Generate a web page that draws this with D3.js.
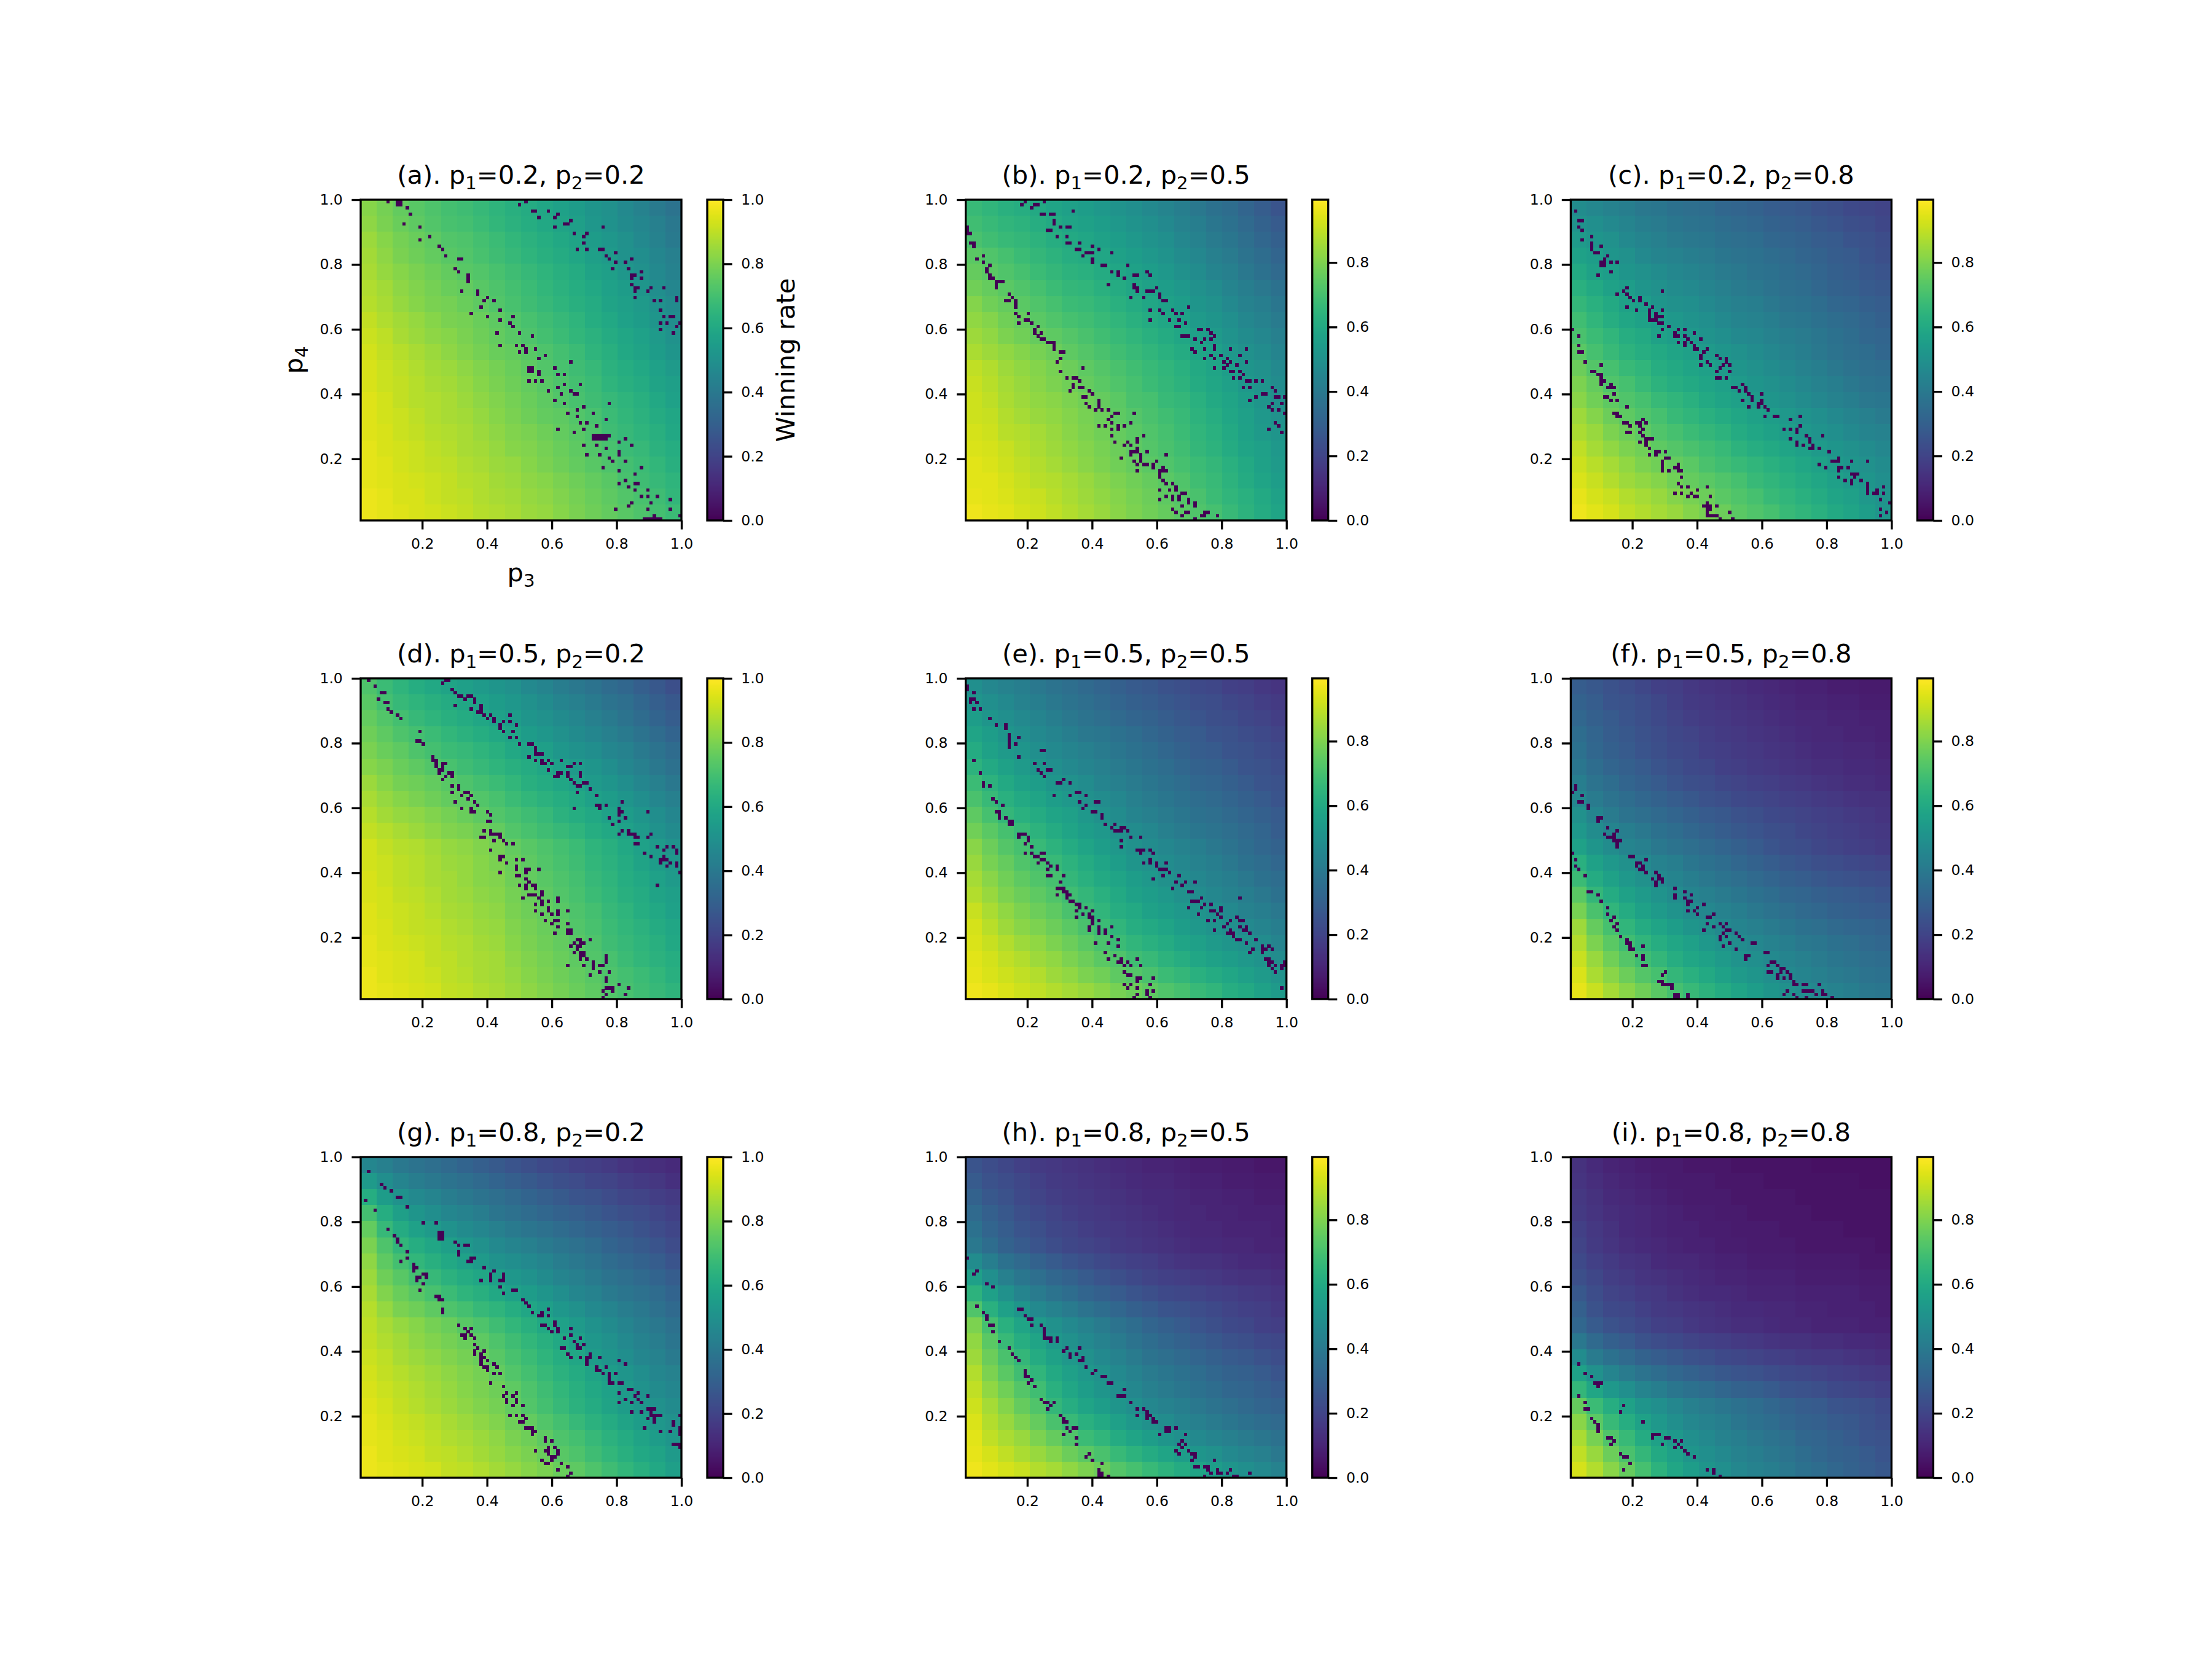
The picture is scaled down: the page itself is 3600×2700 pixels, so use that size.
<!DOCTYPE html>
<html>
<head>
<meta charset="utf-8">
<style>
    body { margin: 0; background: #ffffff; }
    text { font-family: "DejaVu Sans", sans-serif; }
</style>
</head>
<body>
<svg id="fig" width="3600" height="2700"></svg>
<script src="https://cdn.jsdelivr.net/npm/d3@7/dist/d3.min.js"></script>
<script>
// panel parameters: rows vary p1, columns vary p2
const p1Values = [0.2, 0.5, 0.8]
const p2Values = [0.2, 0.5, 0.8]
const panelLetters = ["a", "b", "c", "d", "e", "f", "g", "h", "i"]
const axisTicks = [0.2, 0.4, 0.6, 0.8, 1.0]
const cbarTicksFull = [0.0, 0.2, 0.4, 0.6, 0.8, 1.0]
const cbarTicksShort = [0.0, 0.2, 0.4, 0.6, 0.8]
const cbarMax = [1.0, 0.995, 0.995]

// winning rate in percent, coarse 20x20 reading, first row is p4 near 1.0
const gridA = [
 [82,79,76,74,72,70,69,67,65,63,61,59,57,55,52,50,47,44,41,38],
 [83,80,77,75,73,71,70,68,66,64,62,60,58,56,53,51,48,46,43,40],
 [85,82,79,77,75,73,72,70,68,66,64,62,60,58,55,53,50,47,44,41],
 [86,83,80,78,76,74,73,71,69,67,65,63,61,59,56,54,51,49,46,43],
 [87,84,82,80,78,76,74,73,71,69,67,65,63,61,58,56,53,50,47,44],
 [88,86,83,81,79,77,76,74,72,70,68,66,64,62,60,57,55,52,49,46],
 [89,87,84,82,80,79,77,75,73,71,69,67,65,63,61,58,56,54,51,48],
 [91,88,86,84,82,80,79,77,75,73,71,69,67,65,62,60,57,55,52,49],
 [92,90,87,85,83,82,80,78,76,74,72,70,68,66,64,61,59,57,54,51],
 [93,91,89,87,85,83,81,79,77,76,74,72,70,68,65,63,60,58,55,52],
 [94,92,90,88,86,85,83,81,79,77,75,73,71,69,67,64,62,60,57,54],
 [94,92,91,89,87,86,84,82,80,78,76,74,72,70,68,65,63,61,58,56],
 [95,93,91,89,88,87,85,83,81,79,77,75,73,71,69,67,65,63,60,57],
 [95,93,92,90,88,87,86,84,82,80,78,76,75,73,71,68,66,64,61,59],
 [95,94,92,91,89,88,87,85,83,81,80,78,76,74,72,69,67,65,63,60],
 [96,94,93,92,90,89,87,86,84,82,81,79,77,75,73,71,68,67,64,62],
 [96,95,93,92,91,90,88,87,85,84,82,80,78,76,74,72,70,68,66,63],
 [96,95,94,93,92,91,89,88,86,85,83,82,80,78,76,74,71,69,67,65],
 [97,96,94,94,92,91,90,88,87,86,84,83,81,79,77,75,73,71,69,66],
 [97,96,95,94,93,92,91,89,88,87,85,84,82,80,78,76,74,72,70,68]
]
const gridB = [
 [67,65,63,62,60,58,56,55,53,51,49,47,45,42,40,37,35,32,29,26],
 [69,67,65,64,62,60,58,57,55,53,51,49,47,44,42,39,37,34,31,28],
 [71,69,67,66,64,62,60,59,57,55,53,51,49,46,44,41,39,36,33,30],
 [74,72,70,68,66,64,62,61,59,57,55,53,51,48,46,43,41,38,35,32],
 [76,74,72,70,68,66,64,63,61,59,57,55,53,50,48,45,43,40,37,34],
 [78,76,74,72,70,68,66,65,63,61,59,57,55,53,50,48,45,42,40,37],
 [81,78,76,74,72,70,68,67,65,63,61,59,57,55,52,50,47,44,42,39],
 [83,81,78,76,74,72,70,69,67,65,63,61,59,57,54,52,49,46,44,41],
 [85,83,80,78,76,75,73,71,69,67,65,63,61,59,56,54,51,48,46,43],
 [87,85,83,81,79,77,75,73,71,69,67,65,63,61,58,56,53,50,48,45],
 [90,88,85,83,81,79,77,75,73,71,69,67,65,63,60,58,55,52,50,47],
 [91,89,86,84,82,80,78,76,74,72,70,68,66,64,61,59,56,53,51,48],
 [92,90,87,85,83,82,80,78,76,74,71,70,67,66,63,60,58,55,52,49],
 [92,91,88,86,84,83,81,79,77,75,73,71,69,67,64,62,59,56,53,50],
 [93,92,89,88,86,84,82,80,78,76,74,72,70,68,65,63,60,57,54,52],
 [94,93,91,89,87,85,83,81,79,77,75,73,71,69,66,64,61,58,56,53],
 [95,94,92,90,88,86,84,82,80,78,76,74,72,70,68,66,63,60,57,54],
 [95,95,93,91,89,88,86,84,82,80,78,76,74,72,69,67,64,61,58,55],
 [96,95,94,92,91,89,87,85,83,81,79,77,75,73,71,68,65,63,60,57],
 [97,96,95,93,92,90,88,86,84,82,80,78,76,74,72,70,67,64,61,58]
]
const gridC = [
 [48,46,44,42,40,39,37,36,35,33,32,31,29,28,27,25,24,22,21,20],
 [51,49,47,45,42,41,39,38,37,35,34,33,31,30,29,27,26,24,23,21],
 [54,52,50,47,45,43,41,40,39,37,36,35,33,32,31,29,28,26,25,23],
 [57,55,52,50,47,45,44,42,41,39,38,37,35,34,32,31,29,28,26,24],
 [60,57,55,52,50,48,46,45,43,41,40,38,37,35,34,32,30,29,27,26],
 [63,60,57,55,52,50,48,47,45,43,41,40,38,36,35,33,31,30,28,27],
 [66,63,60,57,55,52,50,49,47,45,43,42,40,38,37,35,33,32,30,29],
 [69,65,62,59,57,55,53,51,49,47,45,44,42,40,39,37,35,34,32,30],
 [71,68,65,62,60,57,55,53,51,49,47,46,44,42,41,39,37,35,33,32],
 [74,70,67,64,62,60,58,56,54,52,50,48,46,44,42,40,38,36,35,33],
 [77,73,70,67,65,62,60,58,56,54,52,50,48,46,44,42,40,38,36,35],
 [80,76,72,70,67,64,62,60,58,56,54,52,50,48,46,44,42,40,38,37],
 [82,78,75,72,70,67,65,63,60,58,56,54,52,50,48,46,44,42,40,39],
 [85,81,77,75,72,70,67,65,63,61,59,57,55,53,51,49,47,45,43,41],
 [87,84,80,77,75,72,70,68,66,64,61,59,57,55,53,51,49,47,45,44],
 [90,86,83,80,78,75,73,71,69,67,64,62,60,58,56,54,52,50,48,46],
 [92,89,86,83,80,78,76,74,71,69,67,65,63,61,59,57,54,52,50,48],
 [94,91,88,85,83,81,78,76,74,72,70,67,65,63,61,59,56,54,52,49],
 [96,93,91,88,86,84,81,79,77,74,72,70,67,65,63,61,58,56,53,51],
 [97,95,93,90,88,86,84,81,79,77,74,72,70,67,65,63,60,58,55,52]
]
const gridD = [
 [72,68,65,62,60,58,56,54,52,50,47,45,42,40,38,35,33,30,27,24],
 [74,70,67,65,63,61,59,57,55,53,50,48,45,43,41,38,36,33,30,27],
 [76,73,70,67,65,63,61,59,57,55,52,50,48,46,43,41,38,35,32,29],
 [78,75,72,70,68,66,64,62,60,58,55,53,50,48,46,43,41,38,35,32],
 [80,77,75,72,70,68,67,65,63,60,58,56,53,51,49,46,44,41,38,35],
 [82,80,77,75,73,71,69,67,65,63,61,59,56,54,52,49,46,43,40,37],
 [85,82,79,78,76,74,72,70,68,66,63,61,59,57,54,52,49,46,43,40],
 [87,84,82,80,78,76,75,73,71,68,66,64,62,60,57,55,52,49,46,43],
 [89,86,84,83,81,79,77,75,73,71,69,67,64,62,60,57,55,52,49,46],
 [91,89,87,85,83,81,80,78,76,73,71,69,67,65,62,60,57,54,51,48],
 [93,91,89,88,86,84,83,81,79,76,74,72,70,68,65,63,60,57,54,51],
 [93,92,90,89,87,85,84,82,80,77,75,73,71,69,66,64,61,58,55,53],
 [94,92,90,89,87,86,84,82,81,78,76,74,72,70,67,65,62,60,57,54],
 [94,93,91,90,88,86,85,83,82,79,77,75,73,71,68,66,63,61,58,56],
 [95,93,92,91,89,87,86,84,83,80,78,76,74,72,70,67,65,62,60,57],
 [95,94,92,91,90,88,87,85,84,81,79,77,75,73,71,68,66,64,61,59],
 [96,94,93,92,91,89,88,86,85,82,80,78,76,74,72,69,67,65,63,60],
 [96,95,94,93,91,90,88,87,86,83,81,79,77,75,73,71,68,66,64,62],
 [97,95,94,93,92,90,89,87,86,84,82,80,78,76,74,72,70,68,66,63],
 [97,96,95,94,93,91,90,88,87,85,83,81,79,77,75,73,71,69,67,65]
]
const gridE = [
 [49,46,44,42,40,38,36,34,32,30,28,27,25,24,22,21,19,18,16,15],
 [52,49,47,44,42,40,38,36,34,32,30,29,27,26,24,23,21,20,18,17],
 [55,52,49,47,45,42,40,38,36,34,32,31,29,27,26,24,23,21,20,18],
 [58,55,52,49,47,45,42,40,39,37,35,33,31,29,28,26,25,23,22,20],
 [61,57,54,52,49,47,45,43,41,39,37,35,33,31,29,28,26,25,23,22],
 [64,60,57,54,52,49,47,45,43,41,39,37,35,33,31,30,28,26,25,23],
 [68,64,60,57,55,52,50,48,45,43,41,39,37,35,33,32,30,28,26,25],
 [71,67,63,60,58,55,53,50,48,46,43,41,39,37,35,34,32,30,28,26],
 [75,70,66,63,61,58,56,53,50,48,45,43,41,39,37,36,34,32,30,28],
 [78,74,70,67,64,61,58,55,53,50,48,46,43,41,39,38,36,34,32,29],
 [82,77,73,70,67,64,61,58,55,53,50,48,46,44,42,40,38,35,33,31],
 [84,79,76,72,70,67,64,61,58,55,52,50,48,46,44,42,40,37,35,33],
 [86,82,78,75,72,70,66,63,60,58,55,53,50,48,46,44,42,40,37,35],
 [88,84,80,77,75,72,69,66,63,60,57,55,53,50,48,46,44,42,40,37],
 [91,87,83,80,77,75,71,68,65,62,60,57,55,53,51,49,47,44,42,40],
 [93,89,85,82,80,77,74,71,68,65,62,60,58,55,53,51,49,47,45,42],
 [94,91,88,85,83,80,77,74,71,68,65,63,61,58,56,54,52,50,48,45],
 [95,93,90,88,85,83,80,77,74,72,69,67,64,62,59,57,55,53,51,48],
 [96,94,92,90,88,85,83,80,78,75,73,71,68,66,63,61,59,56,54,51],
 [97,96,94,92,90,88,86,84,82,79,77,75,72,70,67,65,62,60,57,54]
]
const gridF = [
 [29,27,25,23,21,19,18,16,15,14,13,12,11,10,9,9,8,8,7,7],
 [31,29,26,25,23,21,19,17,16,15,14,13,12,11,10,10,9,9,8,8],
 [33,30,28,26,24,22,20,18,17,16,15,14,13,12,11,11,10,10,9,9],
 [35,32,29,27,25,23,21,20,18,17,16,15,14,13,12,11,11,10,10,9],
 [37,33,30,28,26,24,22,21,19,18,17,16,15,14,13,12,12,11,11,10],
 [39,35,32,30,28,26,24,22,21,19,18,17,16,15,14,13,13,12,12,11],
 [42,38,35,32,30,28,26,24,23,21,20,19,18,17,16,15,14,13,13,12],
 [46,41,38,35,33,31,29,27,25,24,22,21,20,19,18,17,16,15,14,14],
 [50,45,41,38,36,34,32,30,28,27,25,24,22,21,20,19,18,17,16,15],
 [53,48,45,42,40,37,35,33,31,29,27,26,24,23,21,20,19,18,17,16],
 [57,52,48,45,43,40,38,36,34,32,30,28,26,24,23,21,20,19,18,17],
 [63,57,53,50,47,44,42,39,37,35,33,31,29,27,26,24,23,22,21,20],
 [68,61,57,53,50,47,45,42,40,38,36,34,32,30,29,27,26,25,24,23],
 [74,66,61,57,54,51,48,45,43,41,39,37,35,33,32,30,29,28,27,26],
 [79,71,65,61,57,54,51,48,46,44,42,40,38,36,34,33,31,30,29,28],
 [85,76,70,65,61,58,55,52,50,47,45,43,41,39,37,36,34,33,32,31],
 [88,80,74,69,65,62,59,56,53,51,48,46,44,42,40,39,37,36,34,33],
 [91,84,78,73,69,66,62,59,57,54,51,49,47,45,43,41,39,38,36,35],
 [94,87,82,77,73,70,66,63,60,57,54,52,49,47,45,43,41,40,38,37],
 [96,91,86,82,78,74,70,67,64,61,58,55,52,50,48,46,44,42,40,39]
]
const gridG = [
 [46,43,40,38,36,34,32,30,28,26,24,22,21,19,18,17,15,14,13,12],
 [54,49,45,42,40,38,36,34,32,30,28,26,24,23,21,20,18,17,16,14],
 [62,55,51,47,45,42,40,38,36,34,32,30,28,26,25,23,21,20,18,17],
 [70,62,56,52,49,46,44,42,39,37,35,33,31,30,28,26,24,23,21,19],
 [76,67,61,57,54,51,48,46,43,41,39,37,35,33,31,29,27,25,23,21],
 [80,72,66,62,59,56,53,50,47,45,43,41,39,37,35,32,30,28,26,23],
 [83,75,70,66,63,60,57,54,51,49,47,45,42,40,38,35,33,31,29,26],
 [85,78,74,70,67,64,61,59,56,53,51,48,45,43,41,38,36,34,32,29],
 [87,81,77,74,71,68,65,63,60,57,55,52,49,46,44,41,39,37,35,32],
 [89,84,80,78,75,72,70,67,65,62,59,56,53,50,47,45,42,40,37,34],
 [90,87,84,82,79,77,74,72,69,66,63,60,57,54,51,48,45,42,40,37],
 [91,88,86,83,81,79,77,75,72,69,66,63,60,57,53,50,47,44,42,39],
 [92,90,87,85,83,81,79,77,74,71,68,65,62,59,55,52,49,46,44,41],
 [93,91,89,87,85,83,81,79,76,73,70,67,64,61,58,55,52,49,46,44],
 [94,92,90,88,86,84,82,80,78,75,72,69,66,63,60,57,54,51,48,46],
 [95,93,91,89,87,85,83,81,79,76,73,70,67,64,61,58,55,52,50,48],
 [96,94,92,91,89,87,85,83,81,78,76,73,70,67,64,61,58,55,53,50],
 [96,95,93,92,90,88,87,85,83,80,78,75,72,70,67,64,61,58,55,52],
 [97,95,94,93,91,90,88,86,84,82,80,77,74,72,69,66,63,60,58,54],
 [97,96,95,94,93,91,90,88,86,84,82,80,77,75,72,69,66,63,60,56]
]
const gridH = [
 [26,23,21,19,17,16,15,14,13,12,11,10,10,9,8,8,7,7,6,6],
 [28,25,23,21,19,17,16,15,14,13,12,11,11,10,9,9,8,8,7,7],
 [31,27,25,22,20,18,17,16,15,14,13,12,12,11,10,10,9,9,8,8],
 [34,30,27,24,22,20,18,17,16,15,14,13,12,11,11,10,10,9,9,9],
 [37,32,29,26,24,21,20,18,17,16,15,14,13,12,11,11,10,10,10,9],
 [40,35,31,28,26,23,21,20,19,17,16,15,14,13,12,12,11,11,10,10],
 [48,42,37,34,31,28,26,24,22,20,19,18,16,15,14,14,13,12,12,11],
 [56,49,43,39,36,33,31,28,26,24,22,20,19,18,17,16,15,14,14,13],
 [64,56,50,45,41,38,35,32,30,28,26,24,22,21,20,19,18,17,16,15],
 [72,63,56,52,47,44,41,38,35,33,30,28,26,25,23,22,20,19,18,16],
 [80,70,63,58,54,50,47,44,41,38,35,32,30,28,26,24,22,21,19,18],
 [83,74,67,62,58,53,50,47,44,41,38,35,33,31,29,27,25,24,22,21],
 [85,77,71,66,61,57,53,50,47,44,41,38,36,34,32,30,28,27,25,23],
 [88,80,74,69,65,60,56,53,50,47,44,41,39,37,35,33,31,30,28,26],
 [90,83,78,73,69,63,59,55,52,49,46,43,41,39,37,35,33,32,30,28],
 [92,86,81,76,72,66,62,58,55,52,49,46,44,42,40,38,36,34,32,31],
 [94,88,84,80,76,71,67,63,60,56,53,50,48,45,43,41,39,37,35,34],
 [95,90,87,84,80,76,72,68,65,61,58,55,52,49,47,45,43,41,39,37],
 [96,93,90,87,84,81,77,74,71,67,64,61,58,55,52,50,47,45,43,40],
 [97,95,93,91,88,86,83,80,77,73,70,67,64,61,58,55,52,49,47,44]
]
const gridI = [
 [14,12,10,9,8,7,7,6,6,6,5,5,5,5,5,4,4,4,4,4],
 [15,13,11,10,9,8,7,7,7,6,6,6,5,5,5,5,5,5,4,4],
 [16,14,12,11,10,9,8,7,7,7,6,6,6,6,5,5,5,5,5,5],
 [17,15,13,12,11,10,9,8,8,7,7,6,6,6,6,5,5,5,5,5],
 [19,16,14,12,11,10,9,9,8,8,7,7,7,6,6,6,6,5,5,5],
 [20,17,15,13,12,11,10,9,9,8,8,7,7,7,6,6,6,6,6,5],
 [22,19,17,15,14,12,11,11,10,9,9,8,8,8,7,7,7,7,6,6],
 [24,21,18,17,15,14,13,12,11,10,10,9,9,9,8,8,8,8,7,7],
 [27,23,20,19,17,16,14,13,12,12,11,10,10,10,9,9,9,9,8,8],
 [30,25,22,21,19,17,16,15,14,13,12,12,11,11,10,10,9,9,9,8],
 [33,28,25,23,21,19,18,16,15,14,13,13,12,11,11,10,10,10,9,9],
 [40,34,30,28,25,23,22,20,19,18,17,16,15,14,14,13,13,12,12,11],
 [48,41,37,34,31,29,27,25,24,22,21,20,19,18,17,16,16,15,14,13],
 [57,50,45,41,38,35,33,31,29,27,26,25,23,22,21,20,19,18,17,16],
 [66,59,53,49,45,42,39,37,35,33,31,30,28,26,25,24,22,21,20,19],
 [76,68,62,57,52,49,46,43,41,39,37,35,33,31,29,28,26,25,24,22],
 [82,74,67,62,57,53,49,46,44,42,39,37,35,33,31,30,28,27,25,23],
 [87,79,72,67,61,57,53,49,47,44,42,40,38,36,33,32,30,28,26,25],
 [90,84,77,71,66,60,56,52,49,47,44,42,40,38,35,33,31,30,28,26],
 [93,88,82,76,70,64,59,55,52,49,46,44,42,40,37,35,33,31,29,27]
]

// cells at zero winning rate, [p3 index, p4 index from top] on the 100x100 grid
const darkA = [[8,0],[11,0],[12,0],[11,1],[12,1],[14,2],[15,4],[13,7],[18,8],[21,11],[18,12],[24,14],[25,15],[26,17],[30,18],[31,18],[29,21],[30,22],[33,23],[33,24],[33,25],[31,28],[36,28],[36,29],[39,30],[41,31],[38,31],[37,33],[34,35],[39,36],[43,34],[43,37],[46,38],[47,36],[47,39],[42,41],[49,41],[53,42],[43,45],[48,45],[50,45],[51,46],[54,46],[49,47],[51,47],[55,49],[57,48],[52,52],[53,52],[52,53],[53,53],[55,53],[55,54],[52,56],[54,56],[56,56],[60,52],[61,54],[63,54],[65,50],[58,59],[61,58],[63,57],[65,59],[62,60],[66,60],[60,62],[63,63],[68,57],[67,60],[67,65],[69,64],[64,66],[67,67],[72,66],[68,69],[70,69],[73,70],[76,68],[61,71],[66,72],[69,71],[72,73],[73,73],[74,73],[75,73],[76,73],[77,73],[72,74],[73,74],[74,74],[75,74],[76,74],[77,63],[69,76],[73,76],[76,77],[80,75],[82,74],[84,76],[70,79],[74,79],[77,80],[80,78],[80,79],[75,83],[78,81],[80,84],[82,81],[87,83],[80,88],[82,87],[85,85],[83,89],[85,88],[86,88],[85,90],[89,90],[87,92],[84,94],[83,95],[89,92],[90,94],[92,92],[89,96],[91,98],[79,96],[96,96],[96,93],[88,99],[89,99],[90,99],[91,99],[92,99],[93,99],[99,98],
 [49,1],[51,0],[53,3],[54,3],[55,5],[58,3],[61,4],[60,5],[60,8],[63,7],[64,7],[65,6],[66,10],[70,10],[69,13],[69,11],[70,15],[67,15],[75,8],[74,15],[75,15],[76,17],[77,18],[79,16],[79,19],[78,21],[82,19],[83,21],[84,18],[84,23],[85,23],[84,24],[87,22],[87,24],[84,26],[85,27],[86,27],[85,28],[85,30],[89,28],[90,27],[94,27],[91,31],[93,31],[98,30],[98,31],[93,34],[94,36],[96,36],[93,38],[95,38],[97,36],[99,38],[98,39],[93,40],[97,41]]
const darkB = [[18,0],[17,1],[21,1],[22,1],[20,2],[24,0],[23,4],[24,4],[26,4],[27,4],[33,3],[27,7],[27,6],[29,8],[31,8],[32,8],[25,9],[26,9],[28,11],[31,11],[31,13],[32,13],[35,13],[39,14],[41,15],[34,15],[35,15],[37,16],[38,16],[39,16],[36,17],[45,16],[39,19],[39,18],[42,20],[43,20],[50,20],[45,22],[47,23],[47,22],[49,24],[52,23],[53,23],[56,22],[57,23],[44,26],[52,26],[52,27],[53,27],[53,28],[56,28],[57,28],[58,28],[59,27],[51,30],[55,30],[60,30],[60,29],[61,31],[62,31],[69,33],[57,34],[60,34],[61,35],[64,34],[65,35],[67,35],[57,37],[63,37],[66,37],[68,38],[65,39],[66,39],[72,40],[73,40],[75,40],[76,41],[67,42],[68,42],[69,42],[77,42],[71,43],[73,44],[74,43],[76,43],[70,46],[71,47],[74,46],[77,46],[77,45],[82,46],[87,46],[76,48],[74,49],[77,49],[79,48],[81,49],[85,48],[80,50],[82,50],[87,50],[77,52],[80,52],[81,51],[84,51],[82,53],[83,53],[85,53],[86,54],[83,55],[85,55],[87,56],[88,56],[90,56],[92,56],[86,58],[88,58],[95,58],[96,59],[90,61],[92,60],[93,60],[96,61],[97,61],[99,61],[88,62],[95,63],[94,64],[95,65],[98,63],[97,65],[99,66],[96,69],[97,70],[94,71],[98,72],
 [0,8],[0,9],[1,10],[0,10],[1,13],[2,13],[2,14],[5,17],[3,18],[5,19],[7,20],[6,21],[6,22],[7,23],[7,24],[8,24],[9,25],[10,25],[11,25],[9,26],[9,27],[13,29],[14,30],[12,31],[13,31],[15,31],[15,32],[15,33],[15,35],[16,36],[19,35],[18,37],[19,37],[16,38],[20,38],[22,39],[21,40],[21,41],[23,41],[22,42],[23,43],[24,43],[25,44],[26,44],[27,44],[27,45],[27,46],[29,47],[30,47],[29,49],[28,50],[36,52],[29,53],[31,55],[33,55],[34,55],[35,56],[33,57],[33,58],[35,58],[36,58],[32,59],[38,59],[39,60],[36,61],[37,61],[41,62],[41,63],[37,63],[38,64],[41,64],[40,65],[42,65],[44,65],[46,66],[47,66],[45,67],[44,68],[52,66],[41,70],[43,70],[45,69],[47,70],[49,70],[51,69],[45,71],[47,71],[45,73],[55,73],[46,75],[53,74],[53,75],[50,75],[49,76],[51,76],[51,78],[52,78],[53,78],[53,77],[51,79],[54,79],[56,78],[48,80],[54,80],[62,79],[52,81],[54,81],[53,82],[55,82],[56,82],[58,82],[59,81],[58,83],[53,84],[61,83],[60,84],[61,84],[62,84],[60,85],[60,86],[61,87],[62,88],[64,88],[60,90],[63,90],[65,89],[65,90],[60,93],[62,92],[64,92],[64,93],[66,92],[66,93],[67,91],[68,91],[69,93],[69,94],[71,94],[71,95],[64,96],[67,95],[65,97],[67,98],[68,97],[69,97],[73,98],[74,98],[74,97],[75,97],[78,98],[71,99]]
const darkC = [[1,3],[2,6],[3,6],[2,8],[3,9],[6,11],[3,12],[6,13],[6,14],[6,15],[7,16],[8,16],[9,14],[11,17],[10,18],[9,19],[10,19],[9,20],[10,20],[12,19],[14,19],[12,22],[8,23],[17,27],[16,28],[14,29],[17,29],[18,30],[19,31],[21,30],[21,31],[28,28],[23,32],[17,33],[20,34],[25,33],[24,34],[28,34],[24,35],[26,35],[24,36],[26,36],[27,36],[28,36],[24,37],[25,37],[26,37],[27,38],[28,38],[30,39],[28,40],[33,40],[35,40],[38,41],[32,41],[32,42],[33,42],[35,42],[27,42],[36,43],[40,43],[33,44],[35,44],[35,45],[37,44],[38,45],[38,46],[39,46],[42,46],[41,47],[40,48],[40,49],[45,48],[46,49],[48,49],[48,50],[42,50],[40,51],[43,51],[47,51],[49,51],[46,52],[45,53],[49,53],[45,55],[46,55],[48,55],[50,58],[51,58],[53,57],[52,59],[54,58],[54,59],[55,60],[59,60],[56,61],[56,62],[53,62],[58,63],[58,64],[59,62],[59,63],[60,64],[61,65],[55,64],[60,67],[63,67],[64,67],[71,67],[68,68],[71,70],[66,71],[68,71],[70,71],[70,72],[73,73],[78,73],[68,74],[74,74],[70,75],[70,76],[72,76],[74,75],[75,76],[74,77],[75,77],[77,77],[80,78],[81,81],[82,81],[83,80],[83,81],[87,81],[92,81],[77,82],[79,83],[83,83],[84,83],[86,83],[83,84],[83,86],[87,85],[88,85],[89,85],[88,86],[85,87],[87,87],[87,88],[90,87],[92,88],[92,89],[92,90],[92,91],[97,89],[94,91],[95,90],[95,91],[97,91],[96,93],[99,94],[96,96],[98,97],[96,98],
 [0,40],[2,42],[2,45],[2,47],[3,47],[4,50],[9,51],[6,53],[7,53],[8,54],[9,54],[9,55],[9,56],[9,57],[10,56],[12,57],[11,58],[12,58],[13,58],[13,60],[10,61],[11,61],[12,62],[14,62],[17,64],[13,66],[14,66],[14,67],[15,67],[16,69],[17,69],[18,70],[20,69],[21,69],[22,68],[23,69],[21,70],[22,71],[17,72],[18,72],[21,72],[22,73],[23,74],[24,74],[25,74],[23,75],[21,75],[23,76],[24,77],[26,78],[27,78],[29,78],[26,79],[24,79],[29,80],[30,80],[28,81],[28,82],[28,83],[28,84],[30,84],[33,82],[32,83],[33,83],[33,84],[34,84],[34,86],[33,88],[34,89],[36,89],[42,89],[39,90],[32,91],[34,91],[37,91],[36,92],[38,92],[39,92],[43,92],[42,94],[41,95],[42,95],[43,95],[42,96],[43,96],[45,95],[42,97],[42,98],[43,98],[44,98],[45,98],[49,97],[46,99],[50,99]]
const darkD = [[2,0],[4,2],[25,1],[26,0],[27,0],[28,3],[29,4],[30,5],[31,5],[33,5],[34,5],[32,6],[35,7],[35,6],[29,8],[34,9],[37,8],[37,9],[37,10],[36,10],[38,11],[39,12],[40,11],[41,13],[41,12],[46,11],[44,13],[46,13],[43,14],[43,15],[48,14],[44,16],[47,16],[46,18],[48,18],[49,20],[52,20],[53,20],[54,21],[54,22],[54,23],[55,23],[56,23],[52,24],[54,25],[56,25],[56,26],[57,26],[58,25],[59,26],[62,25],[58,28],[60,30],[61,29],[61,30],[62,29],[64,27],[65,27],[66,26],[68,26],[64,29],[64,30],[68,29],[68,30],[65,31],[66,32],[67,33],[68,33],[69,32],[70,32],[71,34],[67,35],[73,36],[66,40],[73,39],[74,39],[74,40],[76,39],[81,38],[80,40],[80,41],[81,41],[80,42],[82,43],[89,41],[77,43],[80,44],[78,45],[81,47],[80,48],[83,47],[83,48],[84,48],[85,48],[86,49],[85,49],[89,49],[90,48],[85,51],[86,51],[92,52],[95,52],[97,52],[94,53],[98,53],[98,54],[88,54],[90,55],[94,55],[93,56],[94,56],[95,56],[93,57],[96,57],[98,57],[95,58],[98,58],[99,60],[92,64],
 [6,4],[7,4],[5,6],[7,7],[8,7],[8,9],[9,10],[11,11],[12,12],[18,16],[17,19],[18,19],[19,20],[22,24],[22,25],[23,25],[23,26],[25,26],[26,26],[25,27],[23,27],[24,28],[25,28],[24,29],[26,30],[27,29],[28,29],[28,30],[25,31],[28,33],[30,33],[30,34],[28,35],[32,35],[33,35],[31,36],[34,36],[33,37],[29,38],[35,38],[36,39],[31,40],[34,40],[34,41],[35,41],[39,41],[40,42],[39,44],[40,44],[38,47],[40,47],[40,48],[41,48],[42,48],[43,48],[43,49],[37,49],[38,49],[41,50],[44,50],[45,51],[47,51],[40,53],[43,55],[44,55],[43,56],[45,57],[48,56],[50,56],[48,58],[48,59],[51,59],[52,59],[51,60],[55,59],[43,60],[48,61],[49,61],[51,62],[52,63],[51,64],[51,65],[53,64],[54,64],[54,65],[49,64],[52,67],[53,67],[54,67],[56,66],[56,67],[50,68],[55,68],[56,69],[56,70],[58,69],[61,68],[61,69],[54,70],[58,71],[58,72],[54,72],[56,73],[59,73],[61,72],[61,73],[64,72],[57,75],[60,75],[61,75],[59,76],[61,77],[64,76],[64,78],[65,78],[64,79],[65,79],[60,79],[67,81],[68,81],[66,82],[69,82],[68,82],[71,81],[65,83],[67,83],[68,83],[67,84],[66,85],[68,85],[69,85],[68,86],[69,86],[68,87],[70,87],[76,86],[76,87],[76,88],[72,88],[72,89],[72,90],[74,89],[75,89],[64,89],[69,89],[71,92],[74,91],[77,91],[76,93],[76,94],[80,95],[76,96],[77,96],[78,96],[78,97],[75,97],[76,98],[82,98],[83,96],[75,99]]
const darkE = [[0,2],[0,3],[2,4],[1,6],[2,6],[1,7],[3,7],[2,9],[4,9],[7,12],[9,14],[12,15],[12,14],[13,17],[13,18],[16,18],[13,19],[15,20],[13,21],[13,20],[16,24],[2,25],[4,29],[5,32],[5,33],[7,33],[8,37],[9,38],[11,39],[9,41],[10,41],[10,42],[10,43],[12,43],[13,44],[14,44],[14,45],[13,45],[16,48],[17,48],[18,48],[16,49],[19,49],[19,50],[18,51],[20,52],[18,54],[20,54],[23,54],[24,54],[21,55],[22,55],[23,56],[24,56],[22,57],[25,57],[26,58],[25,59],[28,58],[28,59],[25,61],[26,61],[30,61],[29,63],[28,65],[29,65],[30,65],[31,66],[30,66],[28,67],[31,67],[31,68],[32,67],[32,69],[33,69],[34,70],[35,70],[35,71],[37,71],[34,72],[36,73],[38,73],[39,72],[34,74],[38,74],[39,74],[39,75],[39,76],[41,75],[38,77],[38,78],[41,77],[41,78],[41,79],[43,78],[43,79],[45,77],[45,80],[47,81],[40,82],[44,82],[47,83],[43,85],[46,86],[44,87],[47,88],[48,88],[48,87],[50,88],[49,89],[51,89],[53,87],[54,89],[49,91],[50,92],[51,92],[53,93],[54,93],[53,94],[58,93],[49,95],[51,95],[50,96],[53,96],[57,95],[56,97],[56,98],[58,97],[53,98],[52,99],[57,99],
 [23,22],[24,22],[21,26],[24,26],[22,28],[25,28],[26,28],[23,29],[24,30],[28,32],[29,32],[30,31],[32,32],[27,36],[32,36],[34,35],[35,35],[37,36],[35,38],[40,38],[41,38],[37,39],[36,40],[39,41],[40,41],[42,42],[42,43],[43,45],[46,45],[45,46],[46,47],[47,47],[48,47],[48,46],[49,46],[50,47],[51,49],[54,49],[48,50],[48,52],[53,53],[54,53],[55,53],[54,54],[57,53],[58,54],[55,57],[57,56],[57,57],[59,57],[62,57],[59,58],[60,59],[61,59],[62,59],[63,60],[61,61],[66,61],[58,62],[65,63],[68,63],[71,63],[67,64],[64,65],[69,66],[70,66],[70,69],[71,69],[72,69],[73,68],[74,70],[76,70],[69,71],[73,71],[72,73],[76,72],[77,72],[78,73],[79,71],[79,72],[79,74],[85,68],[75,75],[77,75],[77,78],[80,77],[81,76],[82,75],[84,74],[85,75],[86,75],[82,78],[81,79],[82,79],[83,79],[83,80],[85,77],[86,78],[87,77],[87,78],[88,79],[84,81],[85,81],[87,82],[90,81],[89,84],[88,85],[92,83],[92,85],[92,84],[93,84],[94,83],[95,84],[93,87],[94,87],[94,88],[94,89],[95,88],[96,89],[95,90],[96,91],[98,89],[99,88],[98,90],[99,89],[98,96]]
const darkF = [[1,33],[1,34],[0,35],[3,36],[2,38],[3,38],[5,39],[5,40],[8,43],[9,43],[8,44],[11,46],[14,47],[10,48],[11,49],[12,49],[13,48],[13,49],[13,50],[14,50],[15,50],[14,51],[14,52],[18,55],[19,55],[23,56],[20,57],[21,57],[20,58],[21,59],[22,58],[22,59],[23,60],[26,60],[27,61],[25,62],[26,63],[27,62],[28,62],[28,63],[26,64],[32,65],[35,66],[32,67],[32,68],[37,67],[35,68],[36,69],[37,69],[36,70],[41,70],[36,72],[38,72],[39,71],[39,73],[42,74],[43,74],[44,73],[42,76],[46,76],[48,76],[44,77],[47,77],[41,78],[48,78],[49,78],[46,80],[46,81],[47,79],[48,80],[51,79],[52,80],[53,81],[49,82],[56,82],[57,82],[47,83],[51,84],[60,85],[61,85],[54,86],[55,86],[54,87],[62,88],[63,88],[61,89],[64,89],[61,91],[62,91],[65,90],[66,90],[65,91],[64,92],[64,93],[67,91],[66,93],[68,92],[68,93],[69,94],[69,95],[70,95],[72,95],[73,95],[77,95],[67,97],[66,98],[69,98],[72,97],[73,97],[74,97],[75,97],[76,98],[78,97],[78,98],[79,98],[70,99],[73,99],[81,99],
 [0,54],[1,56],[1,58],[2,59],[4,61],[5,66],[6,66],[8,67],[9,69],[11,71],[11,73],[13,74],[12,75],[14,76],[13,77],[14,78],[15,80],[17,81],[17,82],[18,82],[18,83],[18,84],[19,84],[22,83],[20,86],[22,86],[22,87],[22,89],[23,89],[29,91],[28,92],[27,94],[28,94],[28,95],[29,95],[30,95],[31,95],[31,96],[32,98],[33,98],[33,99],[36,98],[36,99],[32,99]]
const darkG = [[2,4],[1,13],[4,16],[8,22],[10,24],[11,25],[11,26],[12,27],[14,29],[14,31],[12,32],[16,33],[16,34],[17,34],[16,35],[17,37],[18,37],[19,36],[20,36],[20,37],[17,38],[19,39],[18,41],[23,43],[24,43],[24,44],[25,44],[25,47],[25,48],[30,52],[32,53],[34,53],[33,54],[31,55],[32,55],[32,56],[34,55],[35,56],[35,58],[36,59],[35,60],[35,61],[37,61],[38,60],[37,62],[38,62],[39,63],[37,63],[37,64],[38,65],[39,65],[41,64],[39,66],[42,65],[41,67],[43,67],[40,70],[44,71],[44,74],[45,73],[45,75],[45,76],[48,73],[47,74],[48,75],[48,76],[47,77],[50,77],[46,80],[48,80],[50,80],[51,81],[49,82],[50,82],[52,84],[53,84],[51,84],[53,85],[54,85],[53,86],[57,87],[57,88],[59,88],[54,91],[57,91],[58,90],[58,91],[58,92],[60,90],[61,91],[61,92],[59,93],[60,93],[59,94],[56,94],[57,95],[58,95],[62,95],[64,96],[61,97],[65,98],[64,99],
 [6,8],[7,9],[9,10],[11,12],[12,12],[14,15],[19,20],[23,20],[24,23],[25,23],[24,24],[25,24],[24,25],[25,25],[29,26],[30,27],[30,29],[30,30],[32,27],[33,27],[35,31],[34,31],[33,32],[34,32],[38,34],[41,35],[37,38],[40,36],[40,37],[40,38],[43,38],[44,36],[44,37],[44,38],[43,40],[44,42],[47,41],[48,41],[50,44],[51,45],[52,46],[53,48],[55,49],[56,48],[56,49],[58,47],[58,49],[56,52],[57,52],[58,53],[59,54],[60,51],[60,52],[61,53],[61,54],[65,53],[65,55],[63,56],[66,57],[68,56],[62,59],[63,59],[67,58],[67,59],[68,59],[69,58],[64,61],[65,62],[68,62],[70,62],[70,63],[70,64],[71,61],[71,62],[74,62],[73,65],[74,66],[73,66],[76,65],[75,67],[80,63],[82,64],[77,67],[77,68],[77,69],[77,70],[78,70],[79,67],[80,70],[81,70],[80,73],[83,72],[84,72],[85,74],[86,73],[86,75],[89,74],[82,75],[80,76],[84,76],[87,76],[89,78],[90,78],[91,78],[90,79],[90,80],[91,80],[92,80],[93,80],[89,81],[91,81],[91,82],[84,79],[87,79],[99,80],[97,82],[97,83],[88,84],[93,85],[96,85],[99,84],[99,85],[99,86],[97,89],[99,89],[99,90],[98,89]]
const darkH = [[0,31],[3,35],[2,36],[6,39],[8,40],[16,47],[17,47],[18,49],[19,50],[20,50],[20,52],[23,52],[24,53],[24,54],[24,55],[24,56],[25,56],[26,56],[26,57],[28,56],[28,57],[31,59],[30,60],[35,59],[32,61],[32,62],[34,61],[35,63],[36,62],[36,63],[37,65],[40,66],[39,67],[42,68],[43,68],[44,70],[45,70],[49,72],[47,74],[48,74],[49,74],[51,76],[53,78],[55,78],[53,80],[56,79],[56,80],[56,81],[57,80],[58,81],[58,82],[59,82],[62,84],[63,84],[62,85],[63,85],[65,84],[60,86],[68,86],[67,88],[66,89],[68,89],[67,90],[65,91],[66,92],[69,91],[70,92],[71,92],[70,94],[71,93],[77,94],[71,96],[72,96],[74,96],[75,96],[75,97],[76,98],[78,97],[78,98],[79,98],[81,98],[82,97],[74,99],[83,99],[84,99],[88,98],
 [3,46],[5,48],[6,49],[6,50],[7,52],[8,52],[8,54],[10,57],[13,59],[14,61],[15,62],[16,63],[18,66],[18,67],[18,68],[19,68],[20,69],[19,70],[21,71],[23,75],[24,76],[25,76],[27,76],[26,77],[25,78],[29,80],[30,81],[30,82],[31,82],[31,84],[32,85],[33,84],[34,84],[30,86],[34,87],[34,89],[38,92],[37,93],[39,94],[42,95],[41,97],[41,98],[42,98],[41,99],[42,99],[44,99]]
const darkI = [[2,64],[4,67],[6,68],[7,70],[8,70],[9,70],[8,71],[2,74],[4,76],[4,78],[5,78],[16,77],[15,79],[6,81],[7,82],[8,83],[8,84],[8,85],[22,82],[25,86],[26,86],[27,86],[25,87],[29,87],[30,87],[11,87],[12,87],[13,88],[12,89],[32,88],[34,88],[28,89],[33,89],[32,90],[34,90],[35,91],[36,92],[38,93],[15,92],[16,93],[17,93],[18,95],[16,97],[42,97],[44,97],[44,98],[46,99]]

const grids = [gridA, gridB, gridC, gridD, gridE, gridF, gridG, gridH, gridI]
const darks = [darkA, darkB, darkC, darkD, darkE, darkF, darkG, darkH, darkI]

// layout (pixels)
const size = 522
const lefts = [587, 1571.7, 2556.4]
const tops = [325, 1104, 1883]
const cbarOffset = 564
const cbarWidth = 26
const lw = 3.33
const tickLen = 14.6
const tickFont = 23.5
const labelFont = 41.67
const fontFamily = '"DejaVu Sans", sans-serif'

let svg = d3.select("#fig")
svg.append("rect").attr("width", 3600).attr("height", 2700).attr("fill", "#ffffff")

function styleAxis(sel) {
    sel.attr("font-size", tickFont).attr("font-family", fontFamily)
    sel.select(".domain").remove()
    sel.selectAll(".tick line").attr("stroke", "#000").attr("stroke-width", lw)
    sel.selectAll(".tick text").attr("fill", "#000")
}

grids.forEach((grid, k) => {
    let row = Math.floor(k / 3)
    let col = k % 3
    let vmax = cbarMax[col]
    let color = v => d3.interpolateViridis(Math.min(1, Math.max(0, v / vmax)))

    let body = svg.append("g")
        .attr("transform", "translate(" + lefts[col] + "," + tops[row] + ")")

    let xScale = d3.scaleLinear().domain([0.01, 1]).range([0, size])
    let yScale = d3.scaleLinear().domain([0.01, 1]).range([size, 0])

    let xCoarse = d3.scaleBand().domain(d3.range(20)).range([xScale(0.01), xScale(1)])
    let yCoarse = d3.scaleBand().domain(d3.range(20)).range([yScale(1), yScale(0.01)])
    let xFine = d3.scaleBand().domain(d3.range(100)).range([xScale(0.01), xScale(1)])
    let yFine = d3.scaleBand().domain(d3.range(100)).range([yScale(1), yScale(0.01)])

    let cells = []
    grid.forEach((vals, r) => vals.forEach((v, c) => cells.push({ r: r, c: c, v: v / 100 })))

    body.selectAll("rect.cell")
        .data(cells)
        .enter()
        .append("rect")
        .attr("class", "cell")
        .attr("x", d => xCoarse(d.c))
        .attr("y", d => yCoarse(d.r))
        .attr("width", xCoarse.bandwidth() + 0.6)
        .attr("height", yCoarse.bandwidth() + 0.6)
        .attr("fill", d => color(d.v))
        .attr("shape-rendering", "crispEdges")

    body.selectAll("rect.dark")
        .data(darks[k])
        .enter()
        .append("rect")
        .attr("class", "dark")
        .attr("x", d => xFine(d[0]))
        .attr("y", d => yFine(d[1]))
        .attr("width", xFine.bandwidth() + 0.3)
        .attr("height", yFine.bandwidth() + 0.3)
        .attr("fill", color(0))
        .attr("shape-rendering", "crispEdges")

    body.append("g")
        .attr("transform", "translate(0," + size + ")")
        .call(d3.axisBottom(xScale).tickValues(axisTicks).tickFormat(d3.format(".1f"))
            .tickSize(tickLen).tickPadding(tickLen).tickSizeOuter(0))
        .call(styleAxis)

    body.append("g")
        .call(d3.axisLeft(yScale).tickValues(axisTicks).tickFormat(d3.format(".1f"))
            .tickSize(tickLen).tickPadding(tickLen).tickSizeOuter(0))
        .call(styleAxis)

    body.append("rect")
        .attr("width", size)
        .attr("height", size)
        .attr("fill", "none")
        .attr("stroke", "#000")
        .attr("stroke-width", lw)

    // title
    let title = body.append("text")
        .attr("x", size / 2)
        .attr("y", -26)
        .attr("text-anchor", "middle")
        .attr("font-size", labelFont)
        .attr("font-family", fontFamily)
        .attr("fill", "#000")
    let p1 = d3.format(".1f")(p1Values[row])
    let p2 = d3.format(".1f")(p2Values[col])
    title.append("tspan").text("(" + panelLetters[k] + "). p")
    title.append("tspan").attr("dy", 9).attr("font-size", labelFont * 0.7).text("1")
    title.append("tspan").attr("dy", -9).text("=" + p1 + ", p")
    title.append("tspan").attr("dy", 9).attr("font-size", labelFont * 0.7).text("2")
    title.append("tspan").attr("dy", -9).text("=" + p2)

    // colour bar
    let cbar = svg.append("g")
        .attr("transform", "translate(" + (lefts[col] + cbarOffset) + "," + tops[row] + ")")
    let cScale = d3.scaleLinear().domain([0, vmax]).range([size, 0])
    let steps = d3.range(256)
    cbar.selectAll("rect.step")
        .data(steps)
        .enter()
        .append("rect")
        .attr("class", "step")
        .attr("x", 0)
        .attr("width", cbarWidth)
        .attr("y", i => cScale(vmax * (i + 1) / 256))
        .attr("height", size / 256 + 0.8)
        .attr("fill", i => d3.interpolateViridis(i / 255))
        .attr("shape-rendering", "crispEdges")
    cbar.append("g")
        .attr("transform", "translate(" + cbarWidth + ",0)")
        .call(d3.axisRight(cScale).tickValues(vmax >= 1 ? cbarTicksFull : cbarTicksShort)
            .tickFormat(d3.format(".1f")).tickSize(tickLen).tickPadding(tickLen).tickSizeOuter(0))
        .call(styleAxis)
    cbar.append("rect")
        .attr("width", cbarWidth)
        .attr("height", size)
        .attr("fill", "none")
        .attr("stroke", "#000")
        .attr("stroke-width", lw)

    if (k === 0) {
        let xl = body.append("text")
            .attr("x", size / 2)
            .attr("y", 621)
            .attr("text-anchor", "middle")
            .attr("font-size", labelFont)
            .attr("font-family", fontFamily)
        xl.append("tspan").text("p")
        xl.append("tspan").attr("dy", 9).attr("font-size", labelFont * 0.7).text("3")

        let yl = body.append("text")
            .attr("transform", "translate(-95," + (size / 2) + ") rotate(-90)")
            .attr("text-anchor", "middle")
            .attr("font-size", labelFont)
            .attr("font-family", fontFamily)
        yl.append("tspan").text("p")
        yl.append("tspan").attr("dy", 9).attr("font-size", labelFont * 0.7).text("4")

        cbar.append("text")
            .attr("transform", "translate(142," + (size / 2) + ") rotate(-90)")
            .attr("text-anchor", "middle")
            .attr("font-size", labelFont)
            .attr("font-family", fontFamily)
            .text("Winning rate")
    }
})
</script>
</body>
</html>
